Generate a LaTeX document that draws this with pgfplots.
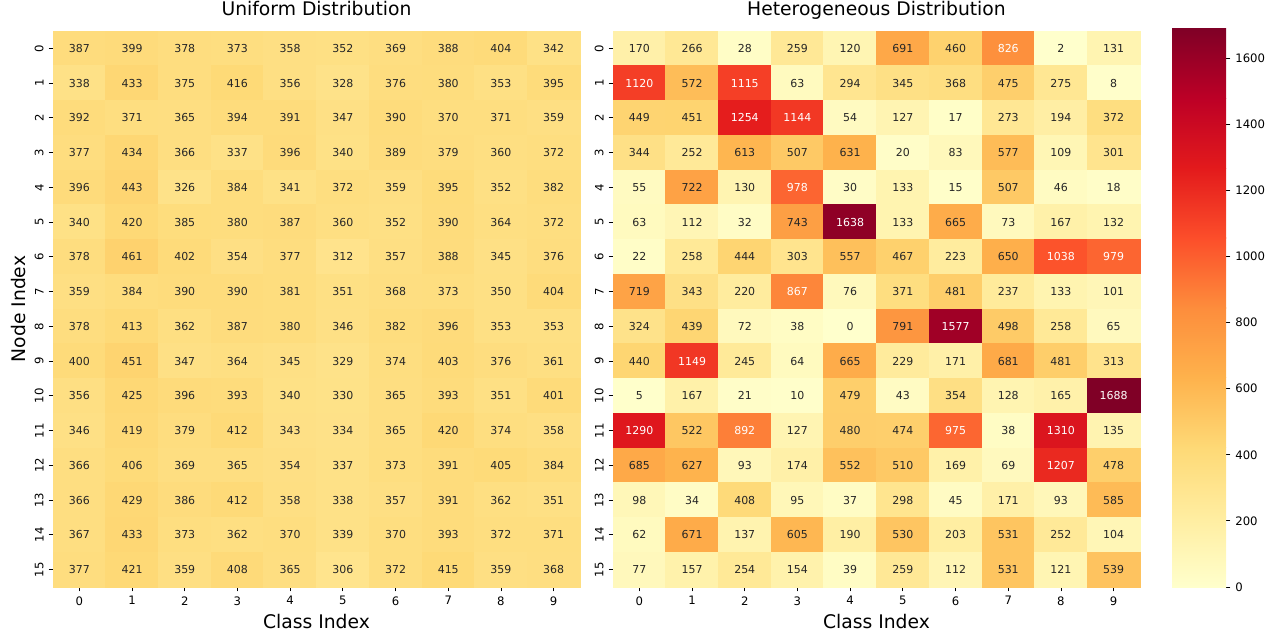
\documentclass[border=0pt]{standalone}
\usepackage{pgfplots}
\pgfplotsset{compat=1.18}
\usepackage{pgfplotstable}
\usepackage{fontspec}
\setmainfont{DejaVu Sans}
\definecolor{annot}{RGB}{38,38,38}
\definecolor{cA}{RGB}{255,255,204}
\definecolor{cB}{RGB}{255,237,160}
\definecolor{cC}{RGB}{254,217,118}
\definecolor{cD}{RGB}{254,178,76}
\definecolor{cE}{RGB}{253,141,60}
\definecolor{cF}{RGB}{252,78,42}
\definecolor{cG}{RGB}{227,26,28}
\definecolor{cH}{RGB}{189,0,38}
\definecolor{cI}{RGB}{128,0,38}

\pgfplotstableread[row sep=\\]{
x y v\\
0 0 387\\1 0 399\\2 0 378\\3 0 373\\4 0 358\\5 0 352\\6 0 369\\7 0 388\\8 0 404\\9 0 342\\
0 1 338\\1 1 433\\2 1 375\\3 1 416\\4 1 356\\5 1 328\\6 1 376\\7 1 380\\8 1 353\\9 1 395\\
0 2 392\\1 2 371\\2 2 365\\3 2 394\\4 2 391\\5 2 347\\6 2 390\\7 2 370\\8 2 371\\9 2 359\\
0 3 377\\1 3 434\\2 3 366\\3 3 337\\4 3 396\\5 3 340\\6 3 389\\7 3 379\\8 3 360\\9 3 372\\
0 4 396\\1 4 443\\2 4 326\\3 4 384\\4 4 341\\5 4 372\\6 4 359\\7 4 395\\8 4 352\\9 4 382\\
0 5 340\\1 5 420\\2 5 385\\3 5 380\\4 5 387\\5 5 360\\6 5 352\\7 5 390\\8 5 364\\9 5 372\\
0 6 378\\1 6 461\\2 6 402\\3 6 354\\4 6 377\\5 6 312\\6 6 357\\7 6 388\\8 6 345\\9 6 376\\
0 7 359\\1 7 384\\2 7 390\\3 7 390\\4 7 381\\5 7 351\\6 7 368\\7 7 373\\8 7 350\\9 7 404\\
0 8 378\\1 8 413\\2 8 362\\3 8 387\\4 8 380\\5 8 346\\6 8 382\\7 8 396\\8 8 353\\9 8 353\\
0 9 400\\1 9 451\\2 9 347\\3 9 364\\4 9 345\\5 9 329\\6 9 374\\7 9 403\\8 9 376\\9 9 361\\
0 10 356\\1 10 425\\2 10 396\\3 10 393\\4 10 340\\5 10 330\\6 10 365\\7 10 393\\8 10 351\\9 10 401\\
0 11 346\\1 11 419\\2 11 379\\3 11 412\\4 11 343\\5 11 334\\6 11 365\\7 11 420\\8 11 374\\9 11 358\\
0 12 366\\1 12 406\\2 12 369\\3 12 365\\4 12 354\\5 12 337\\6 12 373\\7 12 391\\8 12 405\\9 12 384\\
0 13 366\\1 13 429\\2 13 386\\3 13 412\\4 13 358\\5 13 338\\6 13 357\\7 13 391\\8 13 362\\9 13 351\\
0 14 367\\1 14 433\\2 14 373\\3 14 362\\4 14 370\\5 14 339\\6 14 370\\7 14 393\\8 14 372\\9 14 371\\
0 15 377\\1 15 421\\2 15 359\\3 15 408\\4 15 365\\5 15 306\\6 15 372\\7 15 415\\8 15 359\\9 15 368\\
}\uniformtab

\pgfplotstableread[row sep=\\]{
x y v\\
0 0 170\\1 0 266\\2 0 28\\3 0 259\\4 0 120\\5 0 691\\6 0 460\\7 0 826\\8 0 2\\9 0 131\\
0 1 1120\\1 1 572\\2 1 1115\\3 1 63\\4 1 294\\5 1 345\\6 1 368\\7 1 475\\8 1 275\\9 1 8\\
0 2 449\\1 2 451\\2 2 1254\\3 2 1144\\4 2 54\\5 2 127\\6 2 17\\7 2 273\\8 2 194\\9 2 372\\
0 3 344\\1 3 252\\2 3 613\\3 3 507\\4 3 631\\5 3 20\\6 3 83\\7 3 577\\8 3 109\\9 3 301\\
0 4 55\\1 4 722\\2 4 130\\3 4 978\\4 4 30\\5 4 133\\6 4 15\\7 4 507\\8 4 46\\9 4 18\\
0 5 63\\1 5 112\\2 5 32\\3 5 743\\4 5 1638\\5 5 133\\6 5 665\\7 5 73\\8 5 167\\9 5 132\\
0 6 22\\1 6 258\\2 6 444\\3 6 303\\4 6 557\\5 6 467\\6 6 223\\7 6 650\\8 6 1038\\9 6 979\\
0 7 719\\1 7 343\\2 7 220\\3 7 867\\4 7 76\\5 7 371\\6 7 481\\7 7 237\\8 7 133\\9 7 101\\
0 8 324\\1 8 439\\2 8 72\\3 8 38\\4 8 0\\5 8 791\\6 8 1577\\7 8 498\\8 8 258\\9 8 65\\
0 9 440\\1 9 1149\\2 9 245\\3 9 64\\4 9 665\\5 9 229\\6 9 171\\7 9 681\\8 9 481\\9 9 313\\
0 10 5\\1 10 167\\2 10 21\\3 10 10\\4 10 479\\5 10 43\\6 10 354\\7 10 128\\8 10 165\\9 10 1688\\
0 11 1290\\1 11 522\\2 11 892\\3 11 127\\4 11 480\\5 11 474\\6 11 975\\7 11 38\\8 11 1310\\9 11 135\\
0 12 685\\1 12 627\\2 12 93\\3 12 174\\4 12 552\\5 12 510\\6 12 169\\7 12 69\\8 12 1207\\9 12 478\\
0 13 98\\1 13 34\\2 13 408\\3 13 95\\4 13 37\\5 13 298\\6 13 45\\7 13 171\\8 13 93\\9 13 585\\
0 14 62\\1 14 671\\2 14 137\\3 14 605\\4 14 190\\5 14 530\\6 14 203\\7 14 531\\8 14 252\\9 14 104\\
0 15 77\\1 15 157\\2 15 254\\3 15 154\\4 15 39\\5 15 259\\6 15 112\\7 15 531\\8 15 121\\9 15 539\\
}\heterotab

\pgfplotsset{
  /pgf/number format/assume math mode=true,
  /pgf/number format/1000 sep={},
  hm/.style={
    scale only axis, width=379.44pt, height=400.32pt,
    xmin=-0.5, xmax=9.5, ymin=-0.5, ymax=15.5, y dir=reverse,
    xtick={0,...,9}, ytick={0,...,15},
    colormap={ylorrd}{rgb255=(255,255,204) rgb255=(255,237,160) rgb255=(254,217,118) rgb255=(254,178,76) rgb255=(253,141,60) rgb255=(252,78,42) rgb255=(227,26,28) rgb255=(189,0,38) rgb255=(128,0,38)},
    point meta min=0, point meta max=1688,
    axis line style={draw=none},
    tick align=outside, tick pos=left,
    major tick length=3.2pt,
    tick style={black, line width=0.6pt},
    ticklabel style={font=\fontsize{8.4}{10}\selectfont, text=black},
    yticklabel style={rotate=90, anchor=south},
    xlabel style={font=\fontsize{13.5}{16}\selectfont},
    ylabel style={font=\fontsize{13.5}{16}\selectfont},
    title style={font=\fontsize{13.5}{16}\selectfont, at={(0.5,1)}, anchor=base, yshift=5pt},
    xlabel={Class Index},
  },
  cells/.style={scatter, only marks, mark=square*, point meta=explicit,
    scatter/use mapped color={draw=mapped color, fill=mapped color},
    mark size=12.51pt, mark options={xscale=1.5166, line width=0.5pt}},
  annots/.style={draw=none, mark=none, point meta=explicit,
    nodes near coords={\pgfmathfloattofixed{\pgfplotspointmeta}\let\mv\pgfmathresult\pgfmathtruncatemacro\flag{\mv>800}\ifnum\flag=1 \color{white}\fi\pgfmathprintnumber[fixed,precision=0]{\pgfplotspointmeta}},
    nodes near coords align=center,
    every node near coord/.append style={font=\fontsize{7.9}{9}\selectfont, text=annot, anchor=center}},
}

\begin{document}
\begin{tikzpicture}
\path[use as bounding box] (0,0) rectangle (916.56pt,453.6pt);
\begin{axis}[hm, at={(38.16pt,30.96pt)}, anchor=south west,
  title={Uniform Distribution}, ylabel={Node Index}]
\addplot[cells] table[x=x, y=y, meta=v] {\uniformtab};
\addplot[annots] table[x=x, y=y, meta=v] {\uniformtab};
\end{axis}
\begin{axis}[hm, at={(441.36pt,30.96pt)}, anchor=south west,
  title={Heterogeneous Distribution}]
\addplot[cells] table[x=x, y=y, meta=v] {\heterotab};
\addplot[annots] table[x=x, y=y, meta=v] {\heterotab};
\end{axis}
% colour bar
\begin{axis}[at={(843.84pt,30.96pt)}, anchor=south west, scale only axis,
  width=38.88pt, height=401.76pt, xmin=0, xmax=1, ymin=0, ymax=1688,
  xtick=\empty, ytick={0,200,...,1600}, ytick pos=right, yticklabel pos=right,
  axis line style={draw=none}, tick align=outside, major tick length=3.2pt,
  tick style={black, line width=0.6pt},
  yticklabel style={font=\fontsize{8.4}{10}\selectfont, text=black},
  scaled y ticks=false]
\shade[bottom color=cA, top color=cB] (axis cs:0,0) rectangle (axis cs:1,212);
\shade[bottom color=cB, top color=cC] (axis cs:0,211) rectangle (axis cs:1,423);
\shade[bottom color=cC, top color=cD] (axis cs:0,422) rectangle (axis cs:1,634);
\shade[bottom color=cD, top color=cE] (axis cs:0,633) rectangle (axis cs:1,845);
\shade[bottom color=cE, top color=cF] (axis cs:0,844) rectangle (axis cs:1,1056);
\shade[bottom color=cF, top color=cG] (axis cs:0,1055) rectangle (axis cs:1,1267);
\shade[bottom color=cG, top color=cH] (axis cs:0,1266) rectangle (axis cs:1,1478);
\shade[bottom color=cH, top color=cI] (axis cs:0,1477) rectangle (axis cs:1,1688);
\end{axis}
\end{tikzpicture}
\end{document}
